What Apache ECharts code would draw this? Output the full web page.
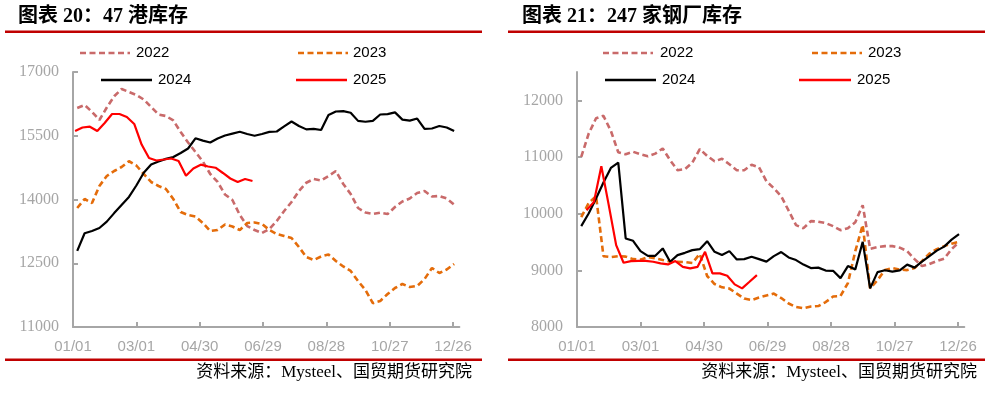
<!DOCTYPE html>
<html>
<head>
<meta charset="utf-8">
<script src="https://cdn.jsdelivr.net/npm/echarts@6/dist/echarts.min.js"></script>
<style>
html,body{margin:0;padding:0;background:#fff;}
#c{width:991px;height:393px;}
</style>
</head>
<body>
<div id="c"></div>
<script>
// ---- categories (day of year, 2024 calendar) ----
const weekDays = [4,11,18,25,32,39,46,53,60,67,74,81,88,95,102,109,116,123,130,137,144,151,158,165,172,179,186,193,200,207,214,221,228,235,242,249,256,263,270,277,284,291,298,305,312,319,326,333,340,347,354,361];
const portDays2025 = [2,9,16,23,30,37,44,51,58,65,72,79,86,93,100,107,114,121,128,135,142,149,156,163,170];
const millDays2025 = [9,16,23,30,37,44,51,58,65,72,79,86,93,100,107,114,121,128,135,142,149,156,163,170];
const tickDays = [0,60,120,180,240,300,360];
const tickLabels = ['01/01','03/01','04/30','06/29','08/28','10/27','12/26'];
const portTicks = [11000,12500,14000,15500,17000];
const millTicks = [8000,9000,10000,11000,12000];
const seriesNames = ['2022','2023','2024','2025'];

// ---- 47港库存 ----
const port2022 = [16153,16224,16063,15871,16165,16429,16600,16530,16460,16353,16177,16000,15965,15860,15588,15341,15118,14894,14600,14412,14118,13988,13635,13376,13282,13212,13306,13494,13730,13941,14200,14395,14482,14447,14553,14670,14365,14130,13800,13694,13659,13690,13659,13824,13953,14024,14153,14200,14071,14082,14024,13880];
const port2023 = [13800,14012,13918,14318,14553,14671,14765,14900,14800,14600,14412,14318,14247,14012,13706,13635,13600,13447,13259,13282,13412,13365,13282,13447,13459,13424,13282,13188,13141,13094,12882,12647,12577,12659,12706,12553,12424,12318,12082,11871,11560,11612,11776,11918,12012,11941,11965,12129,12388,12270,12353,12482];
const port2024 = [12790,13205,13260,13330,13480,13680,13870,14060,14330,14630,14825,14895,14955,15000,15095,15200,15440,15385,15340,15435,15505,15550,15595,15540,15500,15540,15590,15600,15720,15835,15730,15650,15660,15635,15990,16070,16080,16040,15850,15830,15850,16000,16010,16050,15880,15855,15905,15660,15670,15730,15695,15610];
const port2025 = [15612,15694,15713,15612,15800,16012,16012,15941,15777,15294,14977,14918,14941,14965,14906,14560,14730,14819,14777,14748,14624,14494,14412,14482,14435];

// ---- 247家钢厂库存 ----
const mill2022 = [11001,11410,11683,11727,11462,11083,11048,11092,11048,11013,11060,11150,10943,10767,10785,10899,11140,11020,10925,10969,10872,10767,10767,10863,10819,10573,10450,10308,10053,9797,9744,9868,9859,9833,9780,9709,9744,9850,10150,9380,9410,9427,9427,9400,9339,9198,9075,9110,9163,9207,9374,9498];
const mill2023 = [9938,10185,10310,9250,9233,9251,9242,9198,9189,9233,9210,9181,9154,9150,9145,9128,9290,8900,8758,8700,8678,8590,8502,8476,8520,8555,8590,8511,8414,8352,8330,8361,8370,8440,8537,8546,8775,9339,9800,8680,8828,9004,9040,9013,9004,9040,9163,9295,9374,9427,9471,9503];
const mill2024 = [9780,10003,10268,10550,10807,10902,9563,9521,9339,9256,9256,9387,9151,9269,9309,9357,9374,9515,9327,9269,9339,9193,9198,9239,9198,9154,9251,9322,9228,9181,9101,9040,9048,8996,8992,8863,9075,9017,9503,8682,8969,9001,8978,8999,9101,9048,9154,9251,9348,9418,9542,9639];
const mill2025 = [10062,10208,10837,10150,9445,9133,9163,9168,9168,9151,9122,9105,9163,9062,9034,9062,9327,8946,8946,8904,8752,8682,8798,8916];

const titles = ['图表 20：47 港库存','图表 21：247 家钢厂库存'];
const sourceText = '资料来源：Mysteel、国贸期货研究院';

const colors = {'2022':'#c96a6a','2023':'#e46c0a','2024':'#000000','2025':'#ff0000'};
const dashed = {'2022':true,'2023':true,'2024':false,'2025':false};

function pair(days, vals){ return vals.map((v,i)=>[days[i], v]); }

function mkSeries(name, gi, data){
  return {
    name, type:'line', xAxisIndex:gi, yAxisIndex:gi, data,
    symbol:'none', smooth:false, animation:false,
    lineStyle:{color:colors[name], width: dashed[name]?2.6:2.2, type: dashed[name]?[6,3.5]:'solid'},
    z: 2 + seriesNames.indexOf(name)
  };
}

const axisGray = '#a6a6a6';
function mkX(gi){
  return {
    type:'value', gridIndex:gi, min:0, max:366,
    axisLine:{show:true, onZero:false, lineStyle:{color:axisGray, width:2}},
    axisTick:{show:true, inside:true, length:5, customValues:tickDays, lineStyle:{color:axisGray, width:2}},
    axisLabel:{customValues:tickDays, formatter:(v)=>{const k=tickDays.indexOf(v);return k>=0?tickLabels[k]:'';},
      color:axisGray, fontSize:15, fontFamily:'Liberation Sans', margin:12},
    splitLine:{show:false}
  };
}
function mkY(gi, min, max, vals){
  return {
    type:'value', gridIndex:gi, min, max,
    axisLine:{show:true, onZero:false, lineStyle:{color:axisGray, width:2}},
    axisTick:{show:true, inside:true, length:5, customValues:vals, lineStyle:{color:axisGray, width:2}},
    axisLabel:{customValues:vals, formatter:(v)=>String(v), color:axisGray, fontSize:16, fontFamily:'Liberation Serif', margin:14},
    splitLine:{show:false}
  };
}

// legend drawn as graphic items
const legendPos = [
  // [chart, name, x1, x2, y, textX]
  [0,'2022',80,130,53,136],[0,'2023',298,348,53,353],[0,'2024',101,152,80,158],[0,'2025',296,347,80,353],
  [1,'2022',603,653,53,660],[1,'2023',812,862,53,868],[1,'2024',605,656,80,662],[1,'2025',799,851,80,857]
];
const graphics = [];
legendPos.forEach(p=>{
  const name=p[1];
  graphics.push({type:'line', shape:{x1:p[2],y1:p[4],x2:p[3],y2:p[4]},
    style:{stroke:colors[name], lineWidth: dashed[name]?2.6:2.4, lineDash: dashed[name]?[6,3.5]:null}});
  graphics.push({type:'text', x:p[5], y:p[4], style:{text:name, fill:'#000', font:'15px "Liberation Sans"', verticalAlign:'middle'}});
});
// titles, rules, sources
[[0,18,5,482,472],[1,522,508,985,977]].forEach((t,k)=>{
  graphics.push({type:'text', x:t[1], y:17, style:{text:titles[k], fill:'#000', font:'bold 20px "Liberation Serif","Noto Sans CJK SC"', verticalAlign:'middle'}});
  graphics.push({type:'rect', shape:{x:t[2], y:30.5, width:t[3]-t[2], height:2.5}, style:{fill:'#c00000'}});
  graphics.push({type:'rect', shape:{x:t[2], y:358.5, width:t[3]-t[2], height:2.5}, style:{fill:'#c00000'}});
  graphics.push({type:'text', x:t[4], y:373, style:{text:sourceText, fill:'#000', font:'17px "Liberation Serif","Noto Sans CJK SC"', align:'right', verticalAlign:'middle'}});
});

const chart = echarts.init(document.getElementById('c'), null, {renderer:'canvas'});
chart.setOption({
  animation:false,
  backgroundColor:'#fff',
  grid:[
    {left:73, top:72, width:386.4, height:255},
    {left:577, top:72, width:387.3, height:255}
  ],
  xAxis:[mkX(0), mkX(1)],
  yAxis:[mkY(0,11000,17000,portTicks), mkY(1,8000,12500,millTicks)],
  series:[
    mkSeries('2022',0,pair(weekDays,port2022)),
    mkSeries('2023',0,pair(weekDays,port2023)),
    mkSeries('2024',0,pair(weekDays,port2024)),
    mkSeries('2025',0,pair(portDays2025,port2025)),
    mkSeries('2022',1,pair(weekDays,mill2022)),
    mkSeries('2023',1,pair(weekDays,mill2023)),
    mkSeries('2024',1,pair(weekDays,mill2024)),
    mkSeries('2025',1,pair(millDays2025,mill2025))
  ],
  graphic:graphics
});
</script>
</body>
</html>
